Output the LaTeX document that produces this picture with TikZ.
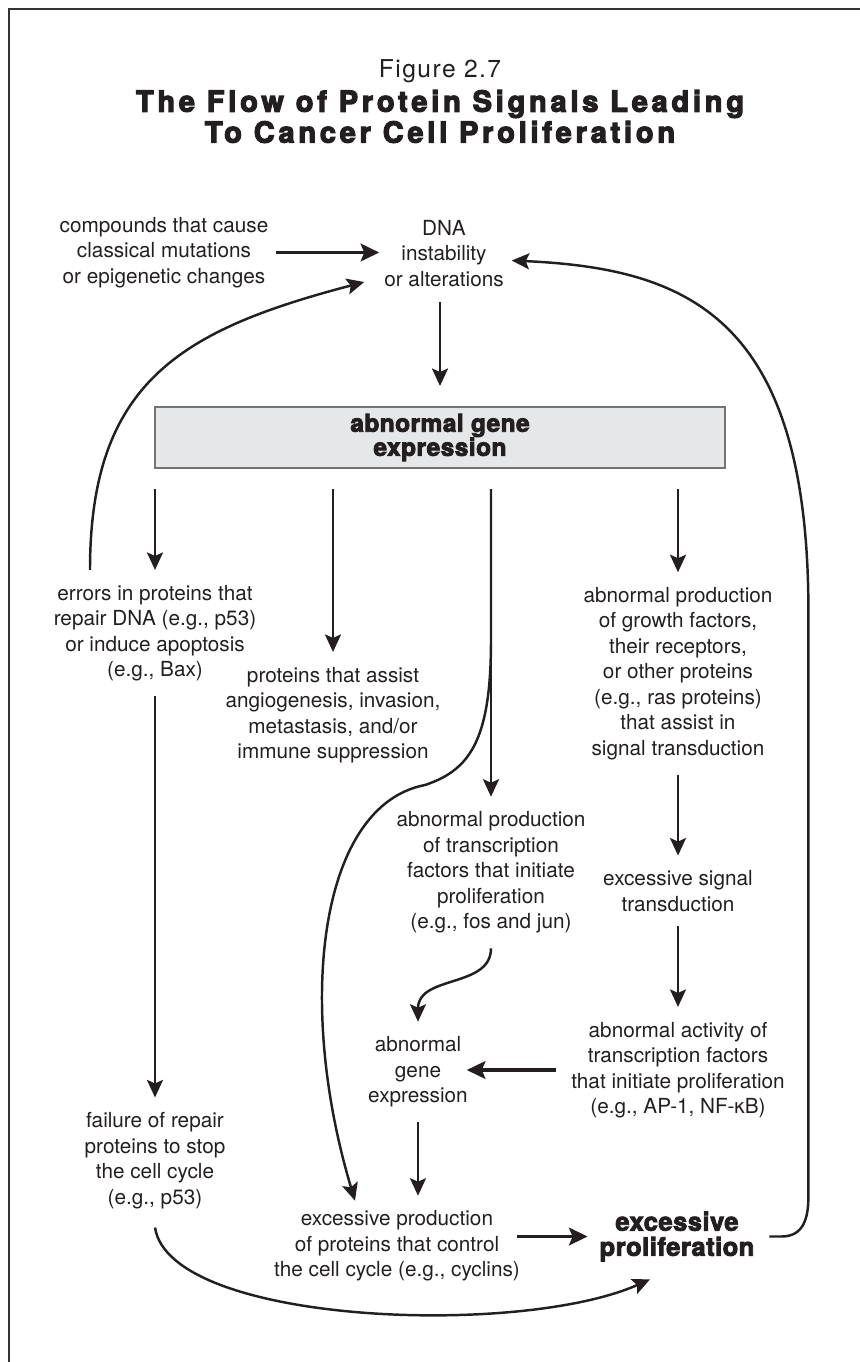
\documentclass[tikz,border=0pt]{standalone}
\usepackage{fontspec}
\setmainfont{TeX Gyre Heros}
\newfontfamily\figfont{TeX Gyre Heros}[LetterSpace=6]
\newfontfamily\titlefont{TeX Gyre Heros}[LetterSpace=13,BoldFeatures={FakeBold=4}]
\newfontfamily\heavyfont{TeX Gyre Heros}[LetterSpace=2,BoldFeatures={FakeBold=3.5}]
\usetikzlibrary{arrows.meta,calc}
\definecolor{ink}{HTML}{231F20}
\definecolor{boxgray}{HTML}{E6E7E8}
\tikzstyle{stage}=[align=center,inner sep=0pt,outer sep=3mm,text=ink,font=\fontsize{11.8}{14.5}\selectfont]
\tikzstyle{hub}=[draw=black!55,line width=0.8pt,fill=boxgray,minimum width=114mm,minimum height=12.2mm,outer sep=4.2mm,align=center,text=ink,font=\heavyfont\bfseries\fontsize{13.9}{13.7}\selectfont]
\tikzstyle{flow}=[draw=ink,line width=1.4pt,-{Stealth[length=3.5mm,width=3.2mm,inset=0.7mm]}]
\tikzstyle{bigflow}=[draw=ink,line width=2.1pt,-{Stealth[length=3.7mm,width=3.5mm,inset=0.7mm]}]
\tikzstyle{frameline}=[draw=black!80,line width=1.5pt]

\begin{document}
\begin{tikzpicture}[x=0.2mm,y=-0.2mm]
    \useasboundingbox (0,0) rectangle (860,1362);
    \draw[frameline] (9,1380) -- (9,9) -- (880,9);

    % heading
    \node[text=ink,font=\figfont\fontsize{14}{16}\selectfont] (fig) at (440,71) {Figure 2.7};
    \node[align=center,text=ink,font=\titlefont\bfseries\fontsize{16.5}{17.6}\selectfont] (title) at (440,116.5)
        {The Flow of Protein Signals Leading\\To Cancer Cell Proliferation};

    % top row
    \node[stage] (compounds) at (164,252.5) {compounds that cause\\classical mutations\\or epigenetic changes};
    \node[stage] (dna) at (444,253.5) {DNA\\instability\\or alterations};
    \node[hub] (box) at (440,437.5) {abnormal gene\\expression};

    % branches
    \node[stage] (errors) at (155,633) {errors in proteins that\\repair DNA (e.g., p53)\\or induce apoptosis\\(e.g., Bax)};
    \node[stage] (assist) at (333,715) {proteins that assist\\angiogenesis, invasion,\\metastasis, and/or\\immune suppression};
    \node[stage] (growth) at (678,673.5) {abnormal production\\of growth factors,\\their receptors,\\or other proteins\\(e.g., ras proteins)\\that assist in\\signal transduction};
    \node[stage] (transc) at (491,872.5) {abnormal production\\of transcription\\factors that initiate\\proliferation\\(e.g., fos and jun)};
    \node[stage] (excsig) at (678,891) {excessive signal\\transduction};
    \node[stage] (activity) at (678,1070) {abnormal activity of\\transcription factors\\that initiate proliferation\\(e.g., AP-1, NF-κB)};
    \node[stage] (gexpr) at (418,1072) {abnormal\\gene\\expression};
    \node[stage] (failure) at (155,1160.5) {failure of repair\\proteins to stop\\the cell cycle\\(e.g., p53)};
    \node[stage] (excprod) at (397,1246) {excessive production\\of proteins that control\\the cell cycle (e.g., cyclins)};
    \node[stage,font=\heavyfont\bfseries\fontsize{14.5}{14.3}\selectfont] (excprolif) at (677,1236.5) {excessive\\proliferation};

    % straight arrows
    \draw[flow] (dna.south -| box.north) -- (box.north);
    \foreach \dest in {errors,assist,transc,growth}
        \draw[flow] (box.south -| \dest) -- (\dest.north);
    \foreach \source/\dest in {errors/failure,growth/excsig,excsig/activity}
        \draw[flow] (\source) -- (\dest);
    \draw[flow] (gexpr.south) -- (gexpr.south |- excprod.north);

    \draw[bigflow,shorten <=-1.4mm,shorten >=-2mm] (compounds.east) -- (compounds.east -| dna.west);
    \draw[bigflow,shorten >=-3.2mm] (activity.west) -- (activity.west -| gexpr.east);
    \draw[bigflow,shorten <=-3.5mm,shorten >=-0.6mm] (excprolif.west -| excprod.east) -- (excprolif.west);

    % curved arrows
    \draw[flow] ($(errors.north)+(-65,0)$) .. controls +(0,-188) and +(-183,48) .. ($(dna.west)+(-5,28.5)$);
    \draw[flow] (box.south -| transc) -- ++(0,151) .. controls +(0,100) and +(45,-15) .. ++(-66,145)
        .. controls +(-105,20) and +(-60,-200) .. ($(excprod.north)+(-42,5)$);
    \draw[flow] (transc.south) .. controls +(0,40) and +(0,-47) .. (gexpr.north);
    \draw[flow] ($(failure.south)+(0,4)$) .. controls +(15,97) and +(-130,58) .. ($(excprolif.south)+(-27,3)$);
    \draw[flow] (excprolif.east) -- ++(12,0) .. controls +(22,0) and +(0,22) .. ++(27,-40) -- ++(0,-578)
        .. controls +(2,-300) and +(178,8) .. ($(dna.east)+(-7,7)$);
\end{tikzpicture}
\end{document}
